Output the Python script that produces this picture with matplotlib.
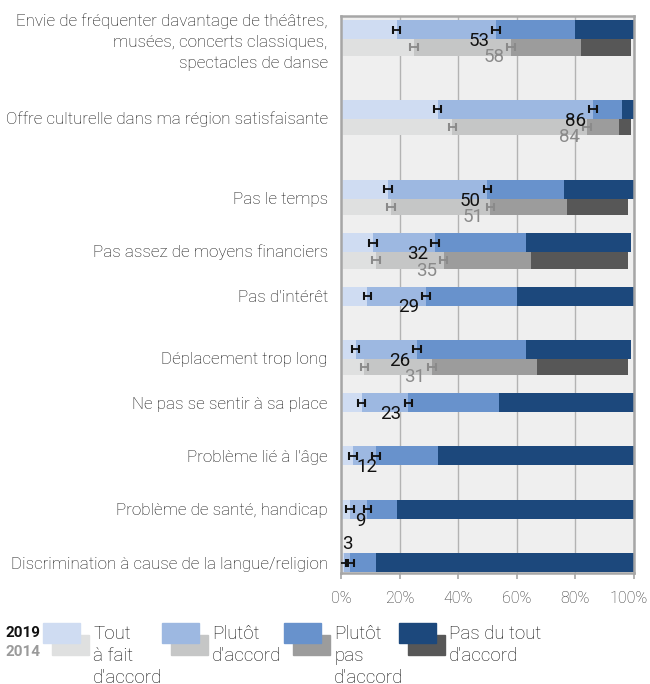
import numpy as np
import matplotlib
matplotlib.use("Agg")
import matplotlib.pyplot as plt
from matplotlib.patches import Rectangle
from matplotlib.transforms import ScaledTranslation

plt.rcParams['font.family'] = ['Roboto', 'DejaVu Sans']

categories = [
    "Envie de fréquenter davantage de théâtres,\nmusées, concerts classiques,\nspectacles de danse",
    "Offre culturelle dans ma région satisfaisante",
    "Pas le temps",
    "Pas assez de moyens financiers",
    "Pas d'intérêt",
    "Déplacement trop long",
    "Ne pas se sentir à sa place",
    "Problème lié à l'âge",
    "Problème de santé, handicap",
    "Discrimination à cause de la langue/religion",
]
series_names = ["Tout\nà fait\nd'accord", "Plutôt\nd'accord", "Plutôt\npas\nd'accord", "Pas du tout\nd'accord"]

# 2019 values (%): tout à fait, plutôt, plutôt pas, pas du tout
v2019_tout = [19, 33, 16, 11, 9, 5, 7, 4, 3, 1]
v2019_plutot = [34, 53, 34, 21, 20, 21, 16, 8, 6, 2]
v2019_plutot_pas = [27, 10, 26, 31, 31, 37, 31, 21, 10, 9]
v2019_pas = [20, 4, 24, 36, 40, 36, 46, 67, 81, 88]

# 2014 values (%), None = not asked
v2014_tout = [25, 38, 17, 12, None, 8, None, None, None, None]
v2014_plutot = [33, 46, 34, 23, None, 23, None, None, None, None]
v2014_plutot_pas = [24, 11, 26, 30, None, 36, None, None, None, None]
v2014_pas = [17, 4, 21, 33, None, 31, None, None, None, None]

err = 1.3

col2019 = ["#cfdcf2", "#9db8e1", "#6892cc", "#1c487c"]
col2014 = ["#dfe0e0", "#c5c6c6", "#9c9c9c", "#575757"]

W, H = 650, 684
fig = plt.figure(figsize=(W / 100, H / 100), dpi=100)
ax = fig.add_axes([341 / W, 1 - 573 / H, 293 / W, 557 / H])
ax.set_facecolor("#efefef")

unit = 53.3
off = 4 / unit
h19 = 19 / unit
h14 = 16.5 / unit
extra = np.array([0, 0.5, 1, 1, 1, 1, 1, 1, 1, 1])
pos = np.arange(len(categories)) + extra

s2019 = [v2019_tout, v2019_plutot, v2019_plutot_pas, v2019_pas]
s2014 = [v2014_tout, v2014_plutot, v2014_plutot_pas, v2014_pas]


def place(cum, ybot, ytop, color):
    if cum >= 20:
        x, ha = cum - 2.3, 'right'
    else:
        x, ha = 0.75 * cum, 'center'
    y = ybot + 2 / unit
    if cum < 5:
        y = ytop - 9 / unit
    ax.text(x, y, f"{cum:g}", ha=ha, va='center', fontsize=13.5, color=color, zorder=5)


def hbar_err(xs, y, color):
    ax.errorbar(xs, [y] * len(xs), xerr=err, fmt='none', ecolor=color,
                elinewidth=1.3, capsize=2.6, capthick=1.5, zorder=4)


centers = []
for i, p in enumerate(pos):
    y19 = p + off
    left = 0
    for k in range(4):
        ax.barh(y19, s2019[k][i], left=left, height=h19, align='edge', color=col2019[k], zorder=2)
        left += s2019[k][i]
    c1 = s2019[0][i]
    c2 = s2019[0][i] + s2019[1][i]
    hbar_err([c1, c2], y19 + h19 / 2, '#111111')
    has14 = s2014[0][i] is not None
    if has14:
        y14 = y19 + h19
        left = 0
        for k in range(4):
            ax.barh(y14, s2014[k][i], left=left, height=h14, align='edge', color=col2014[k], zorder=2)
            left += s2014[k][i]
        d1 = s2014[0][i]
        d2 = s2014[0][i] + s2014[1][i]
        hbar_err([d1, d2], y14 + h14 / 2, '#8a8a8a')
        centers.append(y19 + (h19 + h14) / 2)
    else:
        centers.append(y19 + h19 / 2)

    place(c2, y19 + h19, y19, '#111111')
    if has14:
        place(d2, y14 + h14, y14, '#8a8a8a')

ax.set_xlim(0, 100)
ax.set_ylim(557 / unit, 0)
ax.set_xticks([0, 20, 40, 60, 80, 100])
ax.set_xticklabels(["0%", "20%", "40%", "60%", "80%", "100%"])
ax.grid(axis='x', color='#b3b3b3', linewidth=1.0, zorder=0)
ax.set_axisbelow(True)
ax.tick_params(axis='x', length=4, width=1.2, color='#a6a6a6', labelsize=11.5,
               labelcolor='#333333', pad=9)
ax.set_yticks(centers)
ax.set_yticklabels(categories, fontsize=12.25, color='#111111', linespacing=1.5)
ax.tick_params(axis='y', length=0, pad=9.5)
for lab in ax.get_yticklabels() + ax.get_xticklabels():
    lab.set_fontweight('light')
last = ax.get_xticklabels()[-1]
last.set_transform(last.get_transform() + ScaledTranslation(-5 / 100, 0, fig.dpi_scale_trans))
for s in ax.spines.values():
    s.set_color('#a6a6a6')
    s.set_linewidth(1.8)


def fx(px):
    return px / W


def fy(py):
    return 1 - py / H


fig.text(fx(5), fy(633), "2019", fontsize=11, fontweight='bold', color='#111111', va='center', ha='left')
fig.text(fx(5), fy(652), "2014", fontsize=11, fontweight='bold', color='#9a9a9a', va='center', ha='left')
xs = [43, 162, 284, 399]
for k in range(4):
    x0 = xs[k]
    fig.patches.append(Rectangle((fx(x0 + 9), fy(655)), fx(37), 20 / H, transform=fig.transFigure,
                                 color=col2014[k], zorder=1))
    fig.patches.append(Rectangle((fx(x0), fy(643)), fx(37), 20 / H, transform=fig.transFigure,
                                 color=col2019[k], zorder=2))
    fig.text(fx(x0 + 50), fy(625), series_names[k], fontsize=13.5, color='#111111', va='top', ha='left',
             linespacing=1.3, fontweight='light')

fig.savefig("out.png", dpi=100, facecolor='white')
